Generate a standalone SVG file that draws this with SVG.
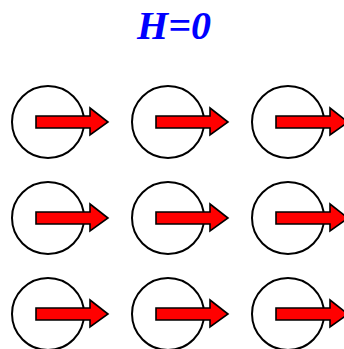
<svg xmlns="http://www.w3.org/2000/svg" width="344" height="349" viewBox="0 0 344 349">
<style>
.c{fill:#fff;stroke:#000;stroke-width:2}
.a{fill:#ff0000;stroke:#000;stroke-width:1.6;stroke-linejoin:miter}
.t{font-family:"Liberation Serif",serif;font-weight:bold;font-style:italic;font-size:40px;fill:#0000ff}
</style>
<defs>
<g id="spin">
<circle class="c" cx="0" cy="0" r="36"/>
<path class="a" d="M-12,-6 H42 V-14 L60,0 L42,13 V6 H-12 Z"/>
</g>
</defs>
<rect width="344" height="349" fill="#fff"/>
<text class="t" x="174" y="39" text-anchor="middle">H=0</text>
<g id="n11"><use href="#spin" x="48" y="122"/></g>
<g id="n12"><use href="#spin" x="168" y="122"/></g>
<g id="n13"><use href="#spin" x="288" y="122"/></g>
<g id="n21"><use href="#spin" x="48" y="218"/></g>
<g id="n22"><use href="#spin" x="168" y="218"/></g>
<g id="n23"><use href="#spin" x="288" y="218"/></g>
<g id="n31"><use href="#spin" x="48" y="314"/></g>
<g id="n32"><use href="#spin" x="168" y="314"/></g>
<g id="n33"><use href="#spin" x="288" y="314"/></g>
<g id="connectors"></g>
</svg>
